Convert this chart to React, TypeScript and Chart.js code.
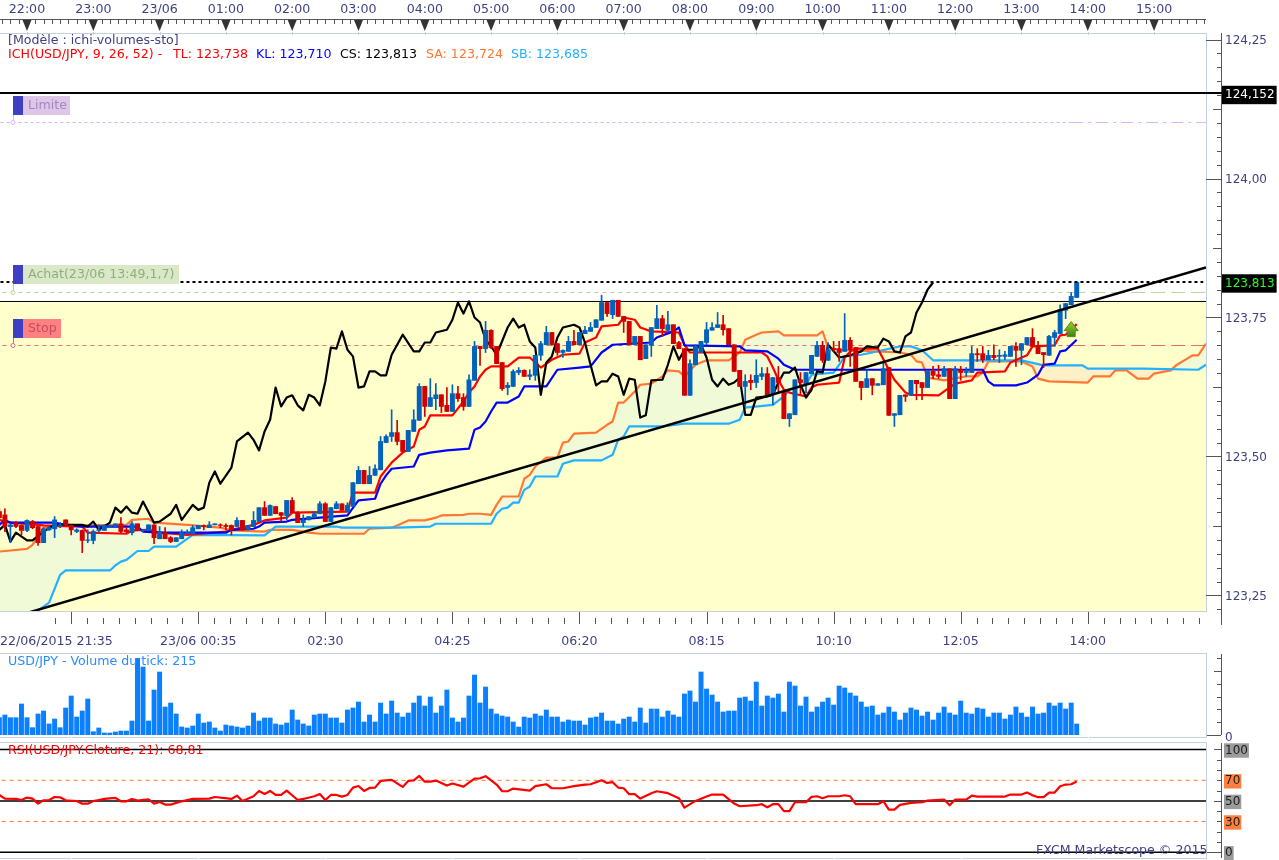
import React, { useEffect, useRef } from "react";
import { Chart, registerables } from "chart.js";

Chart.register(...registerables);

const firstBar = -5;
const xMin = -4.887;
const xMax = 213.4;

const opens = [
123.401,123.395,123.374,123.381,123.376,123.367,123.383,123.374,123.345,123.368,
123.370,123.376,123.386,123.376,123.365,123.367,123.349,123.349,123.367,123.367,
123.374,123.374,123.379,123.368,123.363,123.379,123.367,123.367,123.377,123.352,
123.363,123.354,123.347,123.352,123.361,123.361,123.370,123.376,123.372,123.377,
123.377,123.376,123.376,123.374,123.385,123.368,123.374,123.383,123.408,123.394,
123.410,123.399,123.394,123.421,123.399,123.381,123.386,123.390,123.397,123.415,
123.383,123.406,123.415,123.401,123.410,123.451,123.475,123.451,123.466,123.476,
123.525,123.536,123.543,123.529,123.509,123.545,123.565,123.626,123.590,123.604,
123.611,123.592,123.581,123.613,123.606,123.590,123.637,123.698,123.694,123.727,
123.698,123.669,123.624,123.626,123.651,123.655,123.644,123.646,123.682,123.701,
123.723,123.703,123.687,123.689,123.707,123.701,123.721,123.725,123.732,123.745,
123.777,123.755,123.781,123.752,123.743,123.701,123.716,123.676,123.700,123.730,
123.748,123.727,123.737,123.705,123.694,123.610,123.665,123.687,123.705,123.727,
123.732,123.737,123.730,123.701,123.655,123.626,123.637,123.633,123.644,123.649,
123.613,123.642,123.617,123.568,123.575,123.638,123.631,123.649,123.680,123.700,
123.673,123.694,123.694,123.689,123.709,123.696,123.635,123.624,123.640,123.628,
123.629,123.660,123.574,123.575,123.611,123.610,123.637,123.633,123.624,123.653,
123.647,123.644,123.658,123.604,123.656,123.651,123.651,123.685,123.685,123.674,
123.682,123.680,123.680,123.680,123.698,123.691,123.701,123.714,123.700,123.687,
123.682,123.714,123.721,123.763,123.773,123.786];

const highs = [
123.406,123.406,123.379,123.383,123.377,123.386,123.385,123.374,123.372,123.374,
123.392,123.381,123.386,123.377,123.370,123.368,123.368,123.368,123.377,123.377,
123.376,123.379,123.390,123.372,123.383,123.379,123.368,123.377,123.377,123.374,
123.372,123.356,123.354,123.368,123.368,123.376,123.376,123.377,123.383,123.379,
123.379,123.379,123.377,123.390,123.385,123.376,123.401,123.408,123.419,123.413,
123.410,123.399,123.421,123.426,123.401,123.395,123.392,123.401,123.419,123.417,
123.408,123.419,123.415,123.417,123.453,123.482,123.475,123.482,123.485,123.536,
123.539,123.584,123.565,123.529,123.547,123.584,123.631,123.626,123.640,123.631,
123.611,123.624,123.629,123.626,123.613,123.647,123.707,123.698,123.743,123.728,
123.698,123.669,123.633,123.656,123.660,123.656,123.656,123.682,123.707,123.734,
123.723,123.703,123.692,123.716,123.727,123.723,123.734,123.741,123.746,123.790,
123.777,123.781,123.781,123.752,123.743,123.716,123.716,123.701,123.732,123.772,
123.754,123.761,123.737,123.707,123.694,123.674,123.701,123.707,123.741,123.741,
123.759,123.754,123.730,123.701,123.655,123.647,123.647,123.674,123.660,123.660,
123.642,123.662,123.617,123.577,123.638,123.651,123.651,123.682,123.707,123.707,
123.705,123.707,123.707,123.757,123.714,123.696,123.635,123.656,123.640,123.631,
123.669,123.660,123.577,123.610,123.611,123.637,123.637,123.633,123.653,123.662,
123.664,123.662,123.658,123.662,123.662,123.660,123.698,123.694,123.698,123.691,
123.701,123.692,123.689,123.698,123.705,123.703,123.714,123.730,123.707,123.687,
123.718,123.727,123.773,123.775,123.795,123.813];

const lows = [
123.388,123.365,123.345,123.372,123.359,123.365,123.370,123.340,123.345,123.367,
123.354,123.372,123.376,123.359,123.363,123.327,123.345,123.343,123.363,123.367,
123.374,123.374,123.363,123.363,123.359,123.367,123.365,123.367,123.343,123.352,
123.352,123.345,123.347,123.352,123.361,123.361,123.370,123.368,123.372,123.377,
123.372,123.368,123.359,123.374,123.367,123.368,123.374,123.383,123.394,123.394,
123.397,123.383,123.386,123.399,123.381,123.374,123.386,123.390,123.397,123.383,
123.383,123.406,123.403,123.401,123.410,123.451,123.451,123.451,123.466,123.476,
123.525,123.527,123.521,123.509,123.509,123.545,123.565,123.572,123.590,123.584,
123.579,123.581,123.581,123.599,123.583,123.590,123.637,123.664,123.687,123.694,
123.667,123.619,123.611,123.626,123.647,123.644,123.638,123.637,123.673,123.701,
123.700,123.682,123.678,123.689,123.701,123.701,123.721,123.725,123.732,123.745,
123.752,123.748,123.752,123.723,123.701,123.701,123.674,123.676,123.680,123.730,
123.716,123.723,123.703,123.694,123.610,123.610,123.665,123.687,123.701,123.727,
123.732,123.718,123.701,123.653,123.626,123.590,123.620,123.624,123.638,123.611,
123.593,123.615,123.568,123.554,123.575,123.611,123.615,123.649,123.680,123.669,
123.673,123.689,123.671,123.689,123.662,123.635,123.602,123.624,123.611,123.628,
123.629,123.574,123.554,123.575,123.599,123.610,123.602,123.602,123.624,123.640,
123.640,123.644,123.604,123.604,123.637,123.644,123.651,123.671,123.669,123.674,
123.674,123.669,123.674,123.680,123.662,123.665,123.701,123.698,123.685,123.660,
123.682,123.698,123.721,123.748,123.773,123.786];

const closes = [
123.390,123.374,123.377,123.374,123.367,123.385,123.372,123.345,123.370,123.372,
123.386,123.377,123.376,123.368,123.368,123.349,123.350,123.365,123.368,123.376,
123.376,123.379,123.365,123.365,123.379,123.367,123.368,123.377,123.354,123.365,
123.352,123.347,123.354,123.363,123.363,123.372,123.376,123.374,123.377,123.379,
123.376,123.374,123.368,123.385,123.368,123.376,123.385,123.408,123.394,123.412,
123.397,123.394,123.421,123.399,123.381,123.386,123.392,123.397,123.415,123.383,
123.408,123.415,123.403,123.412,123.453,123.475,123.451,123.466,123.478,123.527,
123.536,123.543,123.527,123.509,123.547,123.566,123.626,123.590,123.606,123.611,
123.590,123.581,123.613,123.604,123.590,123.638,123.698,123.694,123.727,123.696,
123.667,123.622,123.628,123.653,123.655,123.644,123.647,123.682,123.703,123.723,
123.701,123.687,123.691,123.707,123.701,123.723,123.727,123.732,123.746,123.777,
123.757,123.781,123.752,123.743,123.701,123.716,123.674,123.701,123.732,123.748,
123.730,123.737,123.703,123.694,123.610,123.667,123.698,123.707,123.728,123.732,
123.737,123.728,123.701,123.653,123.626,123.635,123.633,123.646,123.649,123.611,
123.642,123.633,123.568,123.577,123.638,123.633,123.651,123.682,123.700,123.673,
123.692,123.692,123.687,123.709,123.692,123.635,123.624,123.640,123.628,123.631,
123.658,123.574,123.577,123.610,123.608,123.637,123.631,123.624,123.653,123.646,
123.644,123.658,123.604,123.658,123.651,123.653,123.685,123.683,123.674,123.682,
123.678,123.682,123.683,123.698,123.691,123.703,123.714,123.698,123.685,123.683,
123.716,123.723,123.764,123.775,123.788,123.813];

const volumes = [
338,390,338,338,605,338,143,410,468,215,
312,143,527,761,351,468,702,65,137,39,
39,59,78,78,273,1495,1326,273,878,1229,
546,624,410,156,137,176,410,234,254,137,
78,195,176,156,137,176,429,273,332,332,
215,195,234,488,293,215,176,390,410,410,
332,332,234,488,527,644,254,390,254,624,
410,663,429,351,429,624,761,566,741,429,
566,878,332,254,332,761,1170,624,936,507,
410,371,351,254,156,351,332,410,371,488,
351,351,254,293,273,273,195,332,351,429,
273,273,215,312,351,254,527,234,507,507,
351,468,390,351,800,858,644,1229,897,780,
644,449,468,468,722,741,663,1034,566,761,
722,800,449,1034,956,566,741,449,546,644,
722,585,956,917,819,761,644,546,566,390,
429,546,449,293,429,527,488,371,449,293,
429,546,429,390,663,429,410,527,507,351,
429,429,312,390,546,429,351,546,410,429,
624,566,624,507,624,215];

const tenkan: [number, number][] = [[-5,123.386],[-3,123.381],[3,123.376],[10,123.374],[11,123.363],[18,123.361],[19,123.367],[22,123.368],[24,123.363],[29,123.359],[36,123.365],[37,123.368],[41,123.377],[43,123.385],[47,123.390],[48,123.399],[58,123.401],[59,123.435],[63,123.435],[64,123.464],[66,123.489],[68,123.507],[70,123.518],[71,123.548],[72,123.554],[73,123.574],[77,123.574],[79,123.599],[80,123.615],[81,123.626],[82,123.644],[83,123.656],[84,123.662],[87,123.662],[89,123.678],[91,123.678],[93,123.660],[95,123.674],[97,123.683],[100,123.685],[101,123.705],[103,123.714],[104,123.734],[107,123.737],[108,123.750],[110,123.746],[111,123.732],[113,123.725],[118,123.723],[119,123.701],[120,123.687],[133,123.687],[134,123.680],[135,123.660],[136,123.638],[137,123.620],[138,123.615],[141,123.608],[142,123.624],[143,123.629],[147,123.633],[148,123.678],[149,123.689],[150,123.694],[154,123.694],[156,123.656],[157,123.638],[159,123.615],[160,123.611],[165,123.610],[166,123.617],[168,123.631],[171,123.637],[172,123.651],[177,123.653],[178,123.669],[181,123.682],[182,123.698],[186,123.700],[187,123.718],[188,123.719],[190,123.738]];

const kijun: [number, number][] = [[-5,123.377],[-4,123.386],[-3,123.381],[5,123.381],[6,123.379],[10,123.374],[20,123.374],[21,123.365],[24,123.363],[36,123.363],[37,123.368],[41,123.370],[42,123.374],[43,123.381],[47,123.383],[48,123.386],[58,123.394],[60,123.421],[63,123.424],[64,123.451],[65,123.466],[66,123.478],[70,123.482],[71,123.503],[73,123.507],[76,123.511],[80,123.514],[81,123.548],[82,123.552],[83,123.563],[84,123.581],[85,123.597],[87,123.597],[89,123.608],[90,123.626],[94,123.626],[96,123.656],[100,123.660],[102,123.662],[104,123.687],[106,123.701],[113,123.705],[114,123.714],[117,123.725],[118,123.732],[119,123.700],[129,123.698],[130,123.691],[134,123.689],[136,123.676],[137,123.665],[139,123.656],[173,123.656],[174,123.635],[175,123.628],[179,123.628],[181,123.633],[183,123.647],[184,123.665],[186,123.667],[187,123.689],[188,123.691],[190,123.710]];

const chikou: [number, number][] = [[-5,123.368],[-4,123.377],[-3,123.347],[-2,123.363],[0,123.349],[1,123.349],[3,123.365],[5,123.377],[10,123.377],[11,123.374],[12,123.383],[13,123.368],[15,123.381],[16,123.408],[17,123.399],[18,123.410],[19,123.399],[20,123.397],[21,123.419],[23,123.381],[24,123.383],[26,123.397],[27,123.413],[28,123.386],[30,123.413],[31,123.404],[32,123.408],[33,123.453],[34,123.473],[35,123.451],[37,123.480],[38,123.527],[40,123.543],[41,123.530],[42,123.511],[43,123.545],[44,123.566],[45,123.624],[46,123.590],[47,123.606],[48,123.610],[49,123.592],[50,123.583],[51,123.611],[52,123.606],[53,123.592],[54,123.635],[55,123.696],[56,123.694],[57,123.725],[58,123.692],[59,123.680],[60,123.624],[61,123.626],[62,123.653],[63,123.653],[64,123.646],[65,123.646],[66,123.683],[68,123.719],[70,123.689],[71,123.689],[72,123.705],[73,123.705],[74,123.723],[76,123.728],[77,123.746],[78,123.777],[79,123.757],[80,123.779],[81,123.750],[82,123.741],[83,123.710],[84,123.698],[85,123.683],[87,123.732],[88,123.748],[89,123.732],[90,123.737],[91,123.707],[92,123.696],[93,123.611],[94,123.669],[95,123.680],[96,123.714],[97,123.732],[99,123.737],[100,123.732],[101,123.705],[102,123.665],[103,123.628],[104,123.635],[105,123.635],[106,123.649],[107,123.644],[108,123.611],[109,123.640],[110,123.638],[111,123.570],[112,123.574],[113,123.637],[115,123.638],[116,123.665],[117,123.698],[118,123.674],[119,123.692],[121,123.692],[122,123.701],[123,123.678],[124,123.638],[125,123.626],[126,123.640],[127,123.629],[128,123.633],[129,123.642],[130,123.575],[131,123.575],[132,123.606],[134,123.608],[135,123.611],[136,123.633],[137,123.651],[138,123.651],[139,123.660],[140,123.629],[141,123.606],[142,123.620],[143,123.653],[144,123.651],[145,123.701],[147,123.678],[149,123.682],[151,123.689],[152,123.698],[154,123.696],[155,123.712],[156,123.707],[157,123.689],[158,123.687],[159,123.716],[160,123.723],[161,123.759],[162,123.777],[163,123.800],[164,123.813]];

const senkouA: [number, number][] = [[-5,123.329],[0,123.334],[1,123.341],[2,123.356],[3,123.372],[4,123.374],[10,123.376],[18,123.377],[19,123.386],[22,123.388],[23,123.381],[29,123.377],[35,123.372],[37,123.367],[43,123.365],[44,123.368],[48,123.368],[51,123.363],[53,123.361],[61,123.361],[62,123.370],[66,123.372],[67,123.376],[69,123.385],[72,123.385],[74,123.390],[75,123.394],[79,123.395],[80,123.397],[82,123.397],[84,123.395],[85,123.413],[86,123.428],[89,123.428],[90,123.460],[91,123.467],[92,123.482],[94,123.498],[96,123.498],[97,123.525],[98,123.527],[99,123.541],[103,123.543],[105,123.557],[106,123.563],[107,123.597],[108,123.597],[110,123.617],[111,123.629],[113,123.631],[115,123.644],[116,123.655],[118,123.653],[119,123.644],[121,123.665],[123,123.673],[127,123.673],[129,123.687],[130,123.710],[132,123.719],[133,123.723],[136,123.725],[137,123.718],[143,123.718],[144,123.725],[145,123.696],[147,123.692],[158,123.687],[160,123.683],[161,123.671],[162,123.669],[163,123.642],[166,123.637],[170,123.644],[172,123.644],[173,123.651],[174,123.671],[180,123.671],[182,123.662],[183,123.640],[185,123.635],[192,123.633],[193,123.644],[196,123.644],[197,123.655],[199,123.655],[201,123.640],[203,123.640],[204,123.649],[207,123.655],[208,123.664],[210,123.676],[211,123.682],[212,123.682],[213.4,123.703]];

const senkouB: [number, number][] = [[-5,123.1],[2,123.223],[3,123.230],[4,123.237],[6,123.287],[7,123.295],[15,123.295],[16,123.304],[17,123.311],[18,123.314],[20,123.330],[22,123.330],[23,123.338],[27,123.338],[30,123.359],[43,123.358],[45,123.374],[56,123.374],[57,123.372],[67,123.372],[73,123.374],[74,123.379],[84,123.379],[85,123.397],[86,123.406],[87,123.408],[88,123.417],[89,123.417],[90,123.440],[91,123.446],[92,123.464],[96,123.464],[97,123.487],[99,123.493],[104,123.493],[106,123.503],[107,123.530],[108,123.536],[109,123.554],[115,123.554],[119,123.559],[127,123.559],[129,123.566],[130,123.588],[135,123.593],[137,123.608],[138,123.620],[141,123.629],[142,123.647],[146,123.651],[147,123.665],[148,123.680],[151,123.683],[153,123.687],[158,123.698],[160,123.698],[162,123.691],[164,123.673],[180,123.673],[184,123.664],[191,123.664],[192,123.658],[202,123.658],[212,123.656],[213.4,123.665]];

const rsi: [number, number][] = [[-5,55.8],[-4,52.2],[-2,51.9],[-1,50.9],[0,53.2],[1,52.2],[2,47.3],[3,50.6],[4,50.9],[5,53.8],[6,53.5],[7,50.6],[9,49.9],[10,47.3],[11,47.3],[12,49.9],[13,50.9],[14,51.9],[16,52.9],[17,49.6],[18,49.6],[19,51.9],[20,50.3],[22,51.6],[23,47.3],[24,49.0],[25,46.4],[26,46.4],[28,49.6],[30,51.9],[33,52.2],[34,53.8],[37,51.9],[38,55.1],[39,49.9],[41,54.5],[42,59.7],[43,56.7],[44,59.7],[45,55.8],[46,55.8],[47,60.0],[49,50.9],[50,51.9],[52,54.5],[53,56.7],[54,50.9],[55,55.8],[56,55.8],[57,54.2],[58,55.8],[59,62.9],[60,64.5],[61,59.7],[62,62.6],[63,62.9],[64,69.4],[66,70.4],[68,63.6],[69,69.4],[70,70.0],[71,74.3],[72,68.7],[73,68.8],[74,69.8],[76,64.9],[77,66.9],[79,63.9],[81,71.7],[82,72.0],[83,74.0],[85,65.9],[86,59.4],[87,59.4],[88,62.0],[91,60.0],[92,64.3],[94,66.2],[95,62.3],[97,62.3],[99,64.3],[101,65.9],[102,66.2],[104,70.1],[105,67.5],[106,68.2],[107,63.0],[108,62.3],[109,56.5],[110,56.5],[111,52.3],[113,57.5],[114,59.4],[116,57.5],[118,52.6],[119,43.5],[121,50.0],[123,54.2],[124,56.2],[126,56.2],[128,47.4],[129,44.8],[132,45.8],[133,46.8],[134,43.8],[135,46.8],[136,46.8],[137,40.0],[138,40.0],[139,48.7],[141,48.7],[142,53.9],[143,54.5],[144,52.6],[145,54.5],[147,54.5],[148,55.5],[149,54.5],[150,46.8],[154,46.8],[155,49.7],[156,41.6],[157,41.6],[158,46.1],[160,48.0],[162,48.7],[163,50.3],[166,51.3],[167,45.8],[168,51.3],[170,51.3],[171,55.2],[172,54.2],[177,54.2],[178,56.2],[180,56.2],[181,58.1],[182,55.5],[183,53.6],[184,53.6],[185,58.1],[186,58.1],[187,64.3],[188,65.9],[189,66.2],[190,68.8]];

const trendline: [number, number][] = [[0.5,123.22],[213.4,123.84]];

const limitPrice = 124.1007;
const topLevel = 124.1538;
const entryDotted = 123.8139;
const entryPrice = 123.795;
const zoneTop = 123.7788;
const stopPrice = 123.6996;
const signalBar = 189;
const signalPrice = 123.73;

const hourBars = [0,12,24,36,48,60,72,84,96,108,120,132,144,156,168,180,192,204];
const hourLabels = ["22:00","23:00","23/06","01:00","02:00","03:00","04:00","05:00","06:00","07:00","08:00","09:00","10:00","11:00","12:00","13:00","14:00","15:00"];
const dateBars = [xMin,31,54,77,100,123,146,169,192,xMax];
const dateLabels = ["22/06/2015 21:35","23/06 00:35","02:30","04:25","06:20","08:15","10:10","12:05","14:00",""];
const priceTicks = [123.25,123.5,123.75,123.813,124,124.152,124.25];
const rsiTicks = [0,30,50,70,100];

const FONT = "'DejaVu Sans', Verdana, sans-serif";
const TEXT_SIZE = 12.6;
const NAVY = "#3f3f85";
const FRAME = "#c4d0de";
const AXIS = "#555555";
const xAt = (n: number) => firstBar + n;

const hLine = (y: number, a: number, b: number, color: string, width: number, dash: number[], order: number, extra: any = {}) => ({
  type: "line", data: [{ x: a, y }, { x: b, y }], borderColor: color, borderWidth: width, borderDash: dash,
  pointRadius: 0, order, ...extra,
});
const pline = (pts: [number, number][], color: string, width: number, order: number, extra: any = {}) => ({
  type: "line", data: pts.map(([x, y]) => ({ x, y })), borderColor: color, borderWidth: width,
  pointRadius: 0, tension: 0, borderJoinStyle: "round", order, ...extra,
});
const fitY = (s: any) => { s.width = 73; s.paddingTop = 0; s.paddingBottom = 0; };

const text = (ctx: any, s: string, x: number, y: number, color: string) => {
  ctx.fillStyle = color; ctx.textAlign = "left"; ctx.textBaseline = "middle"; ctx.fillText(s, x, y);
};
const seg = (ctx: any, a: number, b: number, c: number, d: number) => {
  ctx.beginPath(); ctx.moveTo(a, b); ctx.lineTo(c, d); ctx.stroke();
};

const priceChrome = {
  id: "priceChrome",
  afterDraw(chart: any) {
    const { ctx, scales, chartArea: A } = chart;
    const X = scales.x, Y = scales.y;
    ctx.save();
    ctx.lineWidth = 1;
    ctx.strokeStyle = FRAME;
    ctx.strokeRect(-1, Math.round(A.top) + 0.5, 1207.5, A.bottom - A.top);
    seg(ctx, 1206.5, A.top, 1206.5, A.bottom);
    // top time ruler
    ctx.strokeStyle = AXIS;
    seg(ctx, 0, 19.5, 1206, 19.5);
    for (let n = -3; n * 1.5 <= xMax; n++) {
      const p = Math.round(X.getPixelForValue(n * 1.5)) + 0.5;
      seg(ctx, p, 20, p, 24);
    }
    for (const b of hourBars) {
      const p = X.getPixelForValue(b);
      ctx.fillStyle = "#333333";
      ctx.beginPath(); ctx.moveTo(p - 4.5, 20); ctx.lineTo(p + 4.5, 20); ctx.lineTo(p, 31); ctx.closePath(); ctx.fill();
      ctx.strokeStyle = FRAME; seg(ctx, Math.round(p) + 0.5, 32, Math.round(p) + 0.5, 35); ctx.strokeStyle = AXIS;
    }
    // bottom time ruler
    for (let k = -1; k * 2.875 + 8 <= xMax; k++) {
      const v = 8 + k * 2.875;
      if (v < xMin) continue;
      const p = Math.round(X.getPixelForValue(v)) + 0.5;
      seg(ctx, p, k % 8 === 0 ? 612 : 618, p, 624);
    }
    // price ruler
    seg(ctx, 1221.5, 33, 1221.5, 625);
    for (let n = 0; n <= 41; n++) {
      const v = 123.225 + n * 0.025;
      const p = Math.round(Y.getPixelForValue(v)) + 0.5;
      if (p < 33 || p > 611) continue;
      const long = Math.abs(v / 0.25 - Math.round(v / 0.25)) < 0.01;
      const mid = Math.abs(v / 0.125 - Math.round(v / 0.125)) < 0.01;
      seg(ctx, long ? 1206 : mid ? 1213 : 1217, p, 1221, p);
    }
    ctx.strokeStyle = "#000000"; ctx.lineWidth = 2;
    seg(ctx, 1206, Y.getPixelForValue(topLevel), 1222, Y.getPixelForValue(topLevel));
    // order tags
    ctx.font = TEXT_SIZE + "px " + FONT;
    const tag = (label: string, top: number, w: number, fill: string, ink: string, level: number, conn: string) => {
      const ly = Y.getPixelForValue(level);
      ctx.strokeStyle = conn; ctx.lineWidth = 1;
      seg(ctx, 13.5, top + 19, 13.5, ly);
      ctx.fillStyle = "#ffffff"; ctx.beginPath(); ctx.arc(13, ly, 2, 0, Math.PI * 2); ctx.fill(); ctx.stroke();
      ctx.fillStyle = fill; ctx.fillRect(23, top, w, 19);
      ctx.fillStyle = "#3f3fc4"; ctx.fillRect(13, top, 10, 19);
      text(ctx, label, 28, top + 10, ink);
    };
    tag("Limite", 96, 47, "#dcc8e6", "#a585c8", limitPrice, "#e0b8ee");
    tag("Achat(23/06 13:49,1,7)", 265, 156, "#d9e8c6", "#8fae7c", entryPrice, "#b5d79a");
    tag("Stop", 319, 38, "#ff8080", "#c0505f", stopPrice, "#e86a6a");
    // legends
    text(ctx, "[Modèle : ichi-volumes-sto]", 8, 41, NAVY);
    text(ctx, "ICH(USD/JPY, 9, 26, 52) -", 8, 55, "#ff0000");
    text(ctx, "TL: 123,738", 173, 55, "#ff0000");
    text(ctx, "KL: 123,710", 256, 55, "#0000ff");
    text(ctx, "CS: 123,813", 340, 55, "#000000");
    text(ctx, "SA: 123,724", 426, 55, "#ff7733");
    text(ctx, "SB: 123,685", 511, 55, "#22b0ff");
    // signal arrow
    const ax = X.getPixelForValue(signalBar), ay = Y.getPixelForValue(signalPrice);
    const g = ctx.createLinearGradient(0, ay - 7, 0, ay + 8);
    g.addColorStop(0, "#9fd03a"); g.addColorStop(1, "#3f7f10");
    ctx.fillStyle = g;
    ctx.strokeStyle = "#4f8a1a"; ctx.lineWidth = 1;
    ctx.beginPath();
    ctx.moveTo(ax, ay - 7); ctx.lineTo(ax + 7, ay + 2); ctx.lineTo(ax + 4, ay + 2); ctx.lineTo(ax + 4, ay + 8);
    ctx.lineTo(ax - 4, ay + 8); ctx.lineTo(ax - 4, ay + 2); ctx.lineTo(ax - 7, ay + 2); ctx.closePath(); ctx.fill(); ctx.stroke();
    ctx.restore();
  },
};

const volumeChrome = {
  id: "volumeChrome",
  afterDraw(chart: any) {
    const { ctx, scales } = chart;
    const Y = scales.y, X = scales.x;
    ctx.save();
    ctx.lineWidth = 1;
    ctx.strokeStyle = FRAME;
    seg(ctx, 0, 3.5, 1207, 3.5);
    seg(ctx, 1206.5, 3.5, 1206.5, 87.5);
    seg(ctx, 0, 87.5, 1207, 87.5);
    ctx.strokeStyle = "#ffffff";
    for (let b = 8; b < xMax; b += 23) { const p = Math.round(X.getPixelForValue(b)) + 0.5; seg(ctx, p, 87, p, 89); }
    ctx.strokeStyle = AXIS;
    seg(ctx, 1221.5, 4, 1221.5, 85);
    for (let v = 0; v <= 1500; v += 250) {
      const p = Math.round(Y.getPixelForValue(v)) + 0.5;
      seg(ctx, v === 0 ? 1207 : v === 1250 ? 1214 : 1217, p, 1221, p);
    }
    ctx.font = TEXT_SIZE + "px " + FONT;
    text(ctx, "USD/JPY - Volume du tick: 215", 8, 12, "#2a8cff");
    ctx.restore();
  },
};

const rsiChrome = {
  id: "rsiChrome",
  afterDraw(chart: any) {
    const { ctx, scales } = chart;
    const Y = scales.y, X = scales.x;
    ctx.save();
    ctx.lineWidth = 1;
    ctx.strokeStyle = FRAME;
    seg(ctx, 0, 0.5, 1207, 0.5);
    seg(ctx, 1206.5, 0.5, 1206.5, 116.5);
    seg(ctx, 0, 116.5, 1207, 116.5);
    ctx.strokeStyle = "#ffffff";
    for (let b = 8; b < xMax; b += 23) { const p = Math.round(X.getPixelForValue(b)) + 0.5; seg(ctx, p, 116, p, 118); }
    ctx.strokeStyle = AXIS;
    seg(ctx, 1221.5, 1, 1221.5, 116);
    for (let v = 0; v <= 100; v += 10) {
      const p = Math.round(Y.getPixelForValue(v)) + 0.5;
      seg(ctx, v === 0 ? 1207 : v === 50 || v === 100 ? 1214 : 1217, p, 1221, p);
    }
    ctx.font = TEXT_SIZE + "px " + FONT;
    text(ctx, "RSI(USD/JPY.Cloture, 21): 68,81", 8, 9, "#ff0000");
    text(ctx, "FXCM Marketscope © 2015", 1036, 109, NAVY);
    ctx.restore();
  },
};

const baseOptions = {
  responsive: false,
  animation: false,
  events: [],
  plugins: { legend: { display: false }, tooltip: { enabled: false }, title: { display: false } },
};

const hiddenX = { type: "linear", min: xMin, max: xMax, display: false, offset: false };

const App = () => {
  const priceRef = useRef<HTMLCanvasElement>(null);
  const volRef = useRef<HTMLCanvasElement>(null);
  const rsiRef = useRef<HTMLCanvasElement>(null);

  useEffect(() => {
    document.body.style.margin = "0";
    const colorAt = (n: number) => (closes[n] >= opens[n] ? "#0062bd" : "#d00000");
    const barColors = opens.map((_, n) => colorAt(n));

    const priceChart = new Chart(priceRef.current as any, {
      type: "line",
      data: {
        datasets: [
          hLine(zoneTop, xMin - 1, xMax + 1, "#000000", 1, [], 100, { fill: "start", backgroundColor: "#ffffcc" }),
          pline(senkouA, "#ff7733", 2.2, 90, { fill: { target: 2, above: "#f1fad6", below: "#fff0c8" } }),
          pline(senkouB, "#22b0ff", 2.2, 89),
          hLine(limitPrice, xMin - 1, signalBar, "#e2b0f2", 1, [3, 3], 80),
          hLine(limitPrice, signalBar, xMax, "#e2b0f2", 1, [12, 5, 3, 5], 80),
          hLine(entryPrice, xMin - 1, signalBar, "#b5d79a", 1, [4, 4], 80),
          hLine(entryPrice, signalBar, xMax, "#b5d79a", 1, [14, 6], 80),
          hLine(stopPrice, xMin - 1, signalBar, "#e86a6a", 1, [4, 4], 80),
          hLine(stopPrice, signalBar, xMax, "#e86a6a", 1, [14, 6], 80),
          hLine(topLevel, xMin - 1, xMax + 1, "#000000", 2, [], 78),
          pline(tenkan, "#ff0000", 2.2, 50),
          pline(kijun, "#0000ff", 2.2, 49),
          pline(chikou, "#000000", 2.2, 48),
          {
            type: "bar", order: 30, grouped: false, barThickness: 1, borderWidth: 0,
            data: highs.map((h, n) => ({ x: xAt(n), y: [lows[n], h] })), backgroundColor: barColors,
          },
          {
            type: "bar", order: 29, grouped: false, barThickness: 4.3, borderWidth: 0,
            data: opens.map((o, n) => ({ x: xAt(n), y: [o, closes[n]] })), backgroundColor: barColors,
          },
          hLine(entryDotted, xMin - 1, xMax - 0.5, "#000000", 2, [3, 3], 12),
          pline(trendline, "#000000", 2.5, 10),
        ] as any,
      },
      options: {
        ...baseOptions,
        scales: {
          x: {
            type: "linear", position: "bottom", min: xMin, max: xMax, offset: false,
            grid: { display: false, drawTicks: false }, border: { display: false },
            afterBuildTicks: (s: any) => { s.ticks = dateBars.map((value) => ({ value })); },
            afterFit: (s: any) => { s.height = 39; s.paddingLeft = 0; s.paddingRight = 0; },
            ticks: {
              autoSkip: false, maxRotation: 0, minRotation: 0, align: "inner", padding: 23, color: NAVY,
              font: { family: FONT, size: TEXT_SIZE },
              callback: (v: number) => dateLabels[dateBars.indexOf(v)],
            },
          },
          xTop: {
            type: "linear", position: "top", min: xMin, max: xMax, offset: false,
            grid: { display: false, drawTicks: false }, border: { display: false },
            afterBuildTicks: (s: any) => { s.ticks = hourBars.map((value) => ({ value })); },
            afterFit: (s: any) => { s.height = 33; s.paddingLeft = 0; s.paddingRight = 0; },
            ticks: {
              autoSkip: false, maxRotation: 0, minRotation: 0, padding: 16, color: NAVY,
              font: { family: FONT, size: TEXT_SIZE },
              callback: (v: number) => hourLabels[hourBars.indexOf(v)],
            },
          },
          y: {
            type: "linear", position: "right", min: 123.2221, max: 124.2617,
            grid: { display: false, drawTicks: false }, border: { display: false },
            afterBuildTicks: (s: any) => { s.ticks = priceTicks.map((value) => ({ value })); },
            afterFit: fitY,
            ticks: {
              autoSkip: false, padding: 19, labelOffset: 1, font: { family: FONT, size: 12 },
              callback: (v: number) => (v === 123.813 || v === 124.152 ? v.toFixed(3) : v.toFixed(2)).replace(".", ","),
              color: (c: any) => (c.tick.value === 123.813 ? "#22ff22" : c.tick.value === 124.152 ? "#ffffff" : NAVY),
              showLabelBackdrop: true,
              backdropColor: (c: any) => (c.tick.value === 123.813 || c.tick.value === 124.152 ? "#000000" : "rgba(0,0,0,0)"),
              backdropPadding: { top: 2, bottom: 2, left: 3, right: 2 },
            },
          },
        },
      } as any,
      plugins: [priceChrome],
    } as any);

    const volChart = new Chart(volRef.current as any, {
      type: "bar",
      data: {
        datasets: [{
          data: volumes.map((y, n) => ({ x: xAt(n), y })), backgroundColor: "#0a80ff",
          barThickness: 4.3, borderWidth: 0, grouped: false,
        }] as any,
      },
      options: {
        ...baseOptions,
        layout: { padding: { top: 4, bottom: 6 } },
        scales: {
          x: hiddenX,
          y: {
            type: "linear", position: "right", min: 0, max: 1580,
            grid: { display: false, drawTicks: false }, border: { display: false },
            afterBuildTicks: (s: any) => { s.ticks = [{ value: 0 }]; },
            afterFit: fitY,
            ticks: { padding: 19, labelOffset: 3, color: NAVY, font: { family: FONT, size: 12 } },
          },
        },
      } as any,
      plugins: [volumeChrome],
    } as any);

    const rsiChart = new Chart(rsiRef.current as any, {
      type: "line",
      data: {
        datasets: [
          hLine(100, xMin - 1, xMax + 1, "#000000", 1.5, [], 20),
          hLine(70, xMin + 0.3, xMax, "#ff7733", 1, [4, 4], 20),
          hLine(50, xMin - 1, xMax, "#000000", 1.5, [], 20),
          hLine(30, xMin + 0.3, xMax, "#ff7733", 1, [4, 4], 20),
          hLine(0, xMin - 1, xMax + 1, "#000000", 1.5, [], 20),
          pline(rsi, "#ff0000", 2.2, 5),
        ] as any,
      },
      options: {
        ...baseOptions,
        layout: { padding: { top: 1, bottom: 2 } },
        scales: {
          x: hiddenX,
          y: {
            type: "linear", position: "right", min: -5.54, max: 106.32,
            grid: { display: false, drawTicks: false }, border: { display: false },
            afterBuildTicks: (s: any) => { s.ticks = rsiTicks.map((value) => ({ value })); },
            afterFit: fitY,
            ticks: {
              autoSkip: false, padding: 19, labelOffset: 1, color: "#1c1c1c", font: { family: FONT, size: 12 },
              showLabelBackdrop: true,
              backdropColor: (c: any) => (c.tick.value === 70 || c.tick.value === 30 ? "#ff7f3f" : "#9b9b9b"),
              backdropPadding: { top: 0, bottom: 0, left: 1, right: 1 },
            },
          },
        },
      } as any,
      plugins: [rsiChrome],
    } as any);

    return () => {
      priceChart.destroy();
      volChart.destroy();
      rsiChart.destroy();
    };
  }, []);

  const c = (top: number) => ({ position: "absolute" as const, left: 0, top, display: "block" });
  return (
    <div style={{ position: "absolute", left: 0, top: 0, width: 1279, height: 860, overflow: "hidden", background: "#ffffff" }}>
      <canvas ref={priceRef} width={1279} height={650} style={c(0)} />
      <canvas ref={volRef} width={1279} height={91} style={c(650)} />
      <canvas ref={rsiRef} width={1279} height={118} style={c(742)} />
    </div>
  );
};

export default App;
